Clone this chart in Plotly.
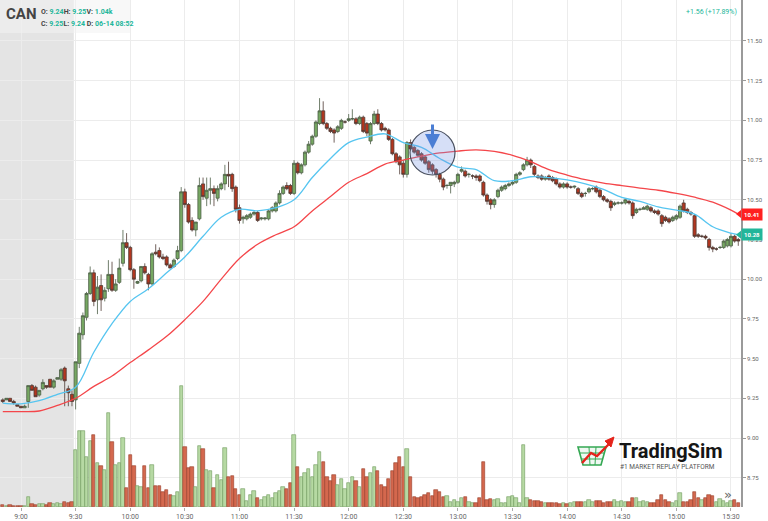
import plotly.graph_objects as go
import pandas as pd

SYMBOL = "CAN"
n_bars = 203
times = pd.date_range("2018-06-14 08:50", periods=n_bars, freq="2min")

open_ = [
    9.24, 9.24, 9.25, 9.23, 9.21, 9.20, 9.19, 9.23, 9.33, 9.32, 9.27, 9.31, 9.33, 9.37, 9.32, 9.37, 9.37, 9.44, 9.31, 9.275,
    9.24, 9.47, 9.65, 9.76, 9.91, 10.04, 9.87, 9.96, 9.88, 9.94, 10.03, 9.93, 9.98, 10.10, 10.23,
    10.20, 10.06, 9.975, 9.99, 10.08, 10.03, 9.97, 10.17, 10.18, 10.14, 10.14, 10.09, 10.08, 10.13, 10.18,
    10.55, 10.47, 10.37, 10.31, 10.38, 10.60, 10.51, 10.56, 10.57, 10.51, 10.57, 10.60, 10.66, 10.66, 10.58,
    10.45, 10.38, 10.38, 10.39, 10.41, 10.42, 10.38, 10.38, 10.38, 10.43, 10.43, 10.48, 10.54, 10.59, 10.59,
    10.54, 10.73, 10.67, 10.72, 10.80, 10.85, 10.90, 10.98, 11.06, 10.98, 10.95, 10.94, 10.93, 10.95, 10.99,
    11.00, 11.01, 11.01, 10.98, 11.02, 10.98, 10.87, 10.98, 11.04, 10.98, 10.95, 10.94, 10.88, 10.79, 10.77,
    10.73, 10.66, 10.86, 10.83, 10.81, 10.79, 10.77, 10.74, 10.72, 10.69, 10.66, 10.63, 10.59, 10.59, 10.60,
    10.61, 10.68, 10.68, 10.66, 10.65, 10.65, 10.65, 10.61, 10.53, 10.50, 10.47, 10.52, 10.56, 10.57, 10.59,
    10.60, 10.61, 10.66, 10.69, 10.72, 10.75, 10.71, 10.65, 10.65, 10.63, 10.65, 10.64, 10.63, 10.60, 10.58,
    10.60, 10.58, 10.58, 10.57, 10.54, 10.54, 10.55, 10.57, 10.58, 10.56, 10.52, 10.50, 10.49, 10.47, 10.48,
    10.48, 10.48, 10.49, 10.48, 10.42, 10.44, 10.44, 10.44, 10.45, 10.43, 10.43, 10.40, 10.39, 10.38, 10.37,
    10.38, 10.39, 10.48, 10.44, 10.42, 10.40, 10.28, 10.27, 10.27, 10.25, 10.20, 10.19, 10.20, 10.20, 10.21,
    10.21, 10.27, 10.25,
]
high = [
    9.25, 9.25, 9.25, 9.24, 9.21, 9.20, 9.21, 9.33, 9.34, 9.33, 9.30, 9.37, 9.33, 9.37, 9.37, 9.38, 9.44, 9.45, 9.33, 9.30,
    9.48, 9.70, 9.79, 9.92, 10.08, 10.06, 10.02, 10.03, 9.95, 10.12, 10.11, 10.00, 10.13, 10.31, 10.29,
    10.21, 10.07, 9.99, 10.08, 10.10, 10.04, 10.17, 10.22, 10.20, 10.16, 10.15, 10.10, 10.13, 10.21, 10.58,
    10.57, 10.48, 10.39, 10.36, 10.64, 10.64, 10.64, 10.64, 10.59, 10.59, 10.61, 10.72, 10.74, 10.67, 10.59,
    10.47, 10.40, 10.41, 10.42, 10.43, 10.43, 10.39, 10.39, 10.44, 10.46, 10.49, 10.56, 10.59, 10.61, 10.60,
    10.75, 10.74, 10.73, 10.81, 10.87, 10.91, 11.00, 11.14, 11.12, 10.99, 10.96, 10.95, 10.97, 11.01, 11.00,
    11.04, 11.07, 11.02, 11.03, 11.03, 10.99, 10.99, 11.06, 11.07, 10.99, 10.96, 10.95, 10.89, 10.80, 10.78,
    10.75, 10.87, 10.88, 10.84, 10.82, 10.80, 10.78, 10.75, 10.73, 10.70, 10.67, 10.64, 10.60, 10.61, 10.62,
    10.67, 10.71, 10.69, 10.67, 10.66, 10.66, 10.66, 10.62, 10.54, 10.51, 10.51, 10.57, 10.59, 10.60, 10.61,
    10.62, 10.67, 10.68, 10.73, 10.77, 10.76, 10.72, 10.66, 10.66, 10.65, 10.66, 10.65, 10.64, 10.61, 10.61,
    10.61, 10.59, 10.59, 10.58, 10.55, 10.55, 10.58, 10.58, 10.59, 10.57, 10.53, 10.51, 10.50, 10.49, 10.49,
    10.49, 10.51, 10.50, 10.49, 10.45, 10.45, 10.46, 10.47, 10.46, 10.44, 10.44, 10.41, 10.40, 10.39, 10.40,
    10.41, 10.47, 10.50, 10.45, 10.43, 10.41, 10.29, 10.28, 10.28, 10.26, 10.21, 10.20, 10.21, 10.25, 10.26,
    10.29, 10.28, 10.26,
]
low = [
    9.22, 9.24, 9.23, 9.21, 9.20, 9.19, 9.19, 9.19, 9.30, 9.26, 9.26, 9.30, 9.31, 9.32, 9.31, 9.37, 9.36, 9.20, 9.20, 9.20,
    9.18, 9.44, 9.62, 9.74, 9.90, 9.83, 9.78, 9.80, 9.86, 9.92, 9.92, 9.92, 9.97, 10.08, 10.19,
    10.05, 9.94, 9.97, 9.98, 10.03, 9.93, 9.96, 10.15, 10.13, 10.12, 10.08, 10.07, 10.07, 10.12, 10.17,
    10.45, 10.35, 10.30, 10.27, 10.37, 10.50, 10.46, 10.47, 10.46, 10.49, 10.56, 10.56, 10.58, 10.55, 10.42,
    10.35, 10.35, 10.37, 10.38, 10.40, 10.36, 10.37, 10.37, 10.37, 10.42, 10.42, 10.47, 10.53, 10.56, 10.53,
    10.53, 10.66, 10.66, 10.71, 10.79, 10.84, 10.89, 10.97, 10.97, 10.94, 10.92, 10.86, 10.92, 10.94, 10.98,
    10.99, 11.00, 10.97, 10.97, 10.92, 10.90, 10.85, 10.97, 10.97, 10.93, 10.93, 10.87, 10.78, 10.73, 10.66,
    10.64, 10.64, 10.81, 10.79, 10.77, 10.74, 10.72, 10.67, 10.66, 10.64, 10.61, 10.56, 10.57, 10.54, 10.58,
    10.60, 10.67, 10.64, 10.64, 10.63, 10.62, 10.61, 10.52, 10.47, 10.44, 10.45, 10.51, 10.55, 10.56, 10.58,
    10.59, 10.60, 10.65, 10.68, 10.71, 10.70, 10.65, 10.63, 10.62, 10.62, 10.62, 10.61, 10.59, 10.57, 10.57,
    10.57, 10.57, 10.57, 10.53, 10.51, 10.52, 10.54, 10.56, 10.54, 10.51, 10.49, 10.48, 10.43, 10.46, 10.47,
    10.47, 10.47, 10.47, 10.38, 10.41, 10.43, 10.44, 10.43, 10.42, 10.41, 10.40, 10.33, 10.36, 10.35, 10.36,
    10.37, 10.38, 10.42, 10.41, 10.40, 10.26, 10.26, 10.26, 10.25, 10.18, 10.17, 10.18, 10.19, 10.19, 10.20,
    10.20, 10.23, 10.21,
]
close = [
    9.23, 9.25, 9.23, 9.22, 9.20, 9.19, 9.20, 9.33, 9.30, 9.26, 9.30, 9.35, 9.32, 9.32, 9.36, 9.38, 9.43, 9.36, 9.285, 9.23,
    9.48, 9.66, 9.77, 9.91, 10.04, 9.86, 9.95, 9.87, 9.93, 10.03, 9.93, 9.97, 10.07, 10.23, 10.20,
    10.06, 10.00, 9.985, 10.08, 10.04, 9.97, 10.16, 10.16, 10.14, 10.13, 10.09, 10.07, 10.12, 10.18, 10.55,
    10.47, 10.36, 10.31, 10.36, 10.59, 10.52, 10.56, 10.57, 10.54, 10.57, 10.60, 10.66, 10.65, 10.57, 10.44,
    10.37, 10.39, 10.40, 10.41, 10.42, 10.37, 10.385, 10.385, 10.43, 10.45, 10.48, 10.54, 10.58, 10.57, 10.54,
    10.73, 10.67, 10.72, 10.80, 10.85, 10.90, 10.99, 11.06, 10.98, 10.95, 10.93, 10.92, 10.96, 11.00, 10.99,
    11.01, 11.01, 10.98, 11.02, 10.93, 10.92, 10.98, 11.04, 10.98, 10.94, 10.94, 10.88, 10.79, 10.74, 10.72,
    10.66, 10.86, 10.82, 10.80, 10.78, 10.75, 10.73, 10.69, 10.68, 10.66, 10.63, 10.58, 10.59, 10.61, 10.61,
    10.66, 10.69, 10.65, 10.66, 10.65, 10.64, 10.62, 10.53, 10.49, 10.47, 10.50, 10.56, 10.58, 10.59, 10.60,
    10.61, 10.66, 10.67, 10.72, 10.75, 10.72, 10.66, 10.64, 10.63, 10.64, 10.63, 10.62, 10.60, 10.58, 10.60,
    10.58, 10.58, 10.585, 10.54, 10.52, 10.54, 10.57, 10.57, 10.55, 10.52, 10.50, 10.49, 10.45, 10.48, 10.48,
    10.48, 10.50, 10.48, 10.40, 10.44, 10.44, 10.45, 10.46, 10.43, 10.42, 10.41, 10.35, 10.37, 10.36, 10.39,
    10.40, 10.46, 10.43, 10.42, 10.41, 10.27, 10.27, 10.27, 10.26, 10.20, 10.19, 10.19, 10.20, 10.24, 10.25,
    10.27, 10.24, 10.24,
]
# volume in hundreds of shares
volume = [
    2, 1.5, 2, 1.5, 1, 1, 1, 10, 3, 2, 3, 3, 2, 4, 3, 4, 3, 5, 4, 5,
    57, 76, 76, 50, 66, 72, 44, 41, 37, 94, 65, 42, 44, 69, 19,
    52, 41, 21, 20, 41, 19, 42, 21, 21, 15, 17, 12, 11, 15, 121,
    60, 39, 40, 20, 61, 58, 37, 36, 19, 32, 27, 59, 30, 31, 18,
    12, 18, 6, 12, 16, 9, 7, 10, 12, 9, 14, 16, 20, 18, 24,
    72, 40, 30, 34, 38, 30, 42, 55, 45, 30, 26, 32, 22, 28, 18,
    24, 30, 26, 20, 38, 30, 34, 40, 36, 22, 20, 28, 36, 44, 50,
    40, 58, 30, 10, 9, 10, 12, 14, 11, 17, 15, 10, 11, 5, 7,
    5, 9, 10, 5, 4, 4, 9, 45, 7, 8, 7, 8, 4, 4, 10,
    11, 9, 4, 62, 9, 7, 6, 6, 5, 4, 4, 4, 4, 3, 4,
    3, 4, 5, 5, 5, 5, 7, 5, 6, 6, 4, 5, 5, 7, 5,
    6, 5, 5, 9, 9, 5, 6, 5, 4, 4, 7, 12, 7, 5, 4,
    6, 14, 5, 5, 7, 15, 9, 7, 9, 12, 11, 5, 8, 6, 4,
    6, 7, 4,
]

line_times = [
    "08:50", "09:00", "09:10", "09:20", "09:30", "09:40", "09:50", "10:00", "10:10", "10:20", "10:30",
    "10:40", "10:50", "11:00", "11:10", "11:20", "11:30", "11:40", "11:50", "12:00", "12:10", "12:20",
    "12:30", "12:40", "12:50", "13:00", "13:10", "13:20", "13:30", "13:40", "13:50", "14:00", "14:10",
    "14:20", "14:30", "14:40", "14:50", "15:00", "15:10", "15:20", "15:30", "15:34",
]
ema_fast = [
    9.22, 9.215, 9.235, 9.275, 9.32, 9.54, 9.72, 9.86, 9.94, 10.04, 10.14,
    10.27, 10.39, 10.44, 10.43, 10.45, 10.50, 10.64, 10.76, 10.86, 10.895, 10.915,
    10.86, 10.83, 10.76, 10.705, 10.69, 10.62, 10.62, 10.645, 10.64, 10.625, 10.60,
    10.565, 10.515, 10.49, 10.455, 10.435, 10.41, 10.33, 10.29, 10.28,
]
ema_slow = [
    9.166, 9.166, 9.17, 9.205, 9.25, 9.325, 9.39, 9.475, 9.555, 9.64, 9.745,
    9.86, 10.00, 10.13, 10.22, 10.28, 10.33, 10.43, 10.52, 10.61, 10.665, 10.725,
    10.75, 10.775, 10.795, 10.807, 10.814, 10.805, 10.78, 10.74, 10.69, 10.656, 10.627,
    10.605, 10.589, 10.574, 10.56, 10.54, 10.516, 10.485, 10.435, 10.41,
]
price_ticks = [8.75, 9.00, 9.25, 9.50, 9.75, 10.00, 10.25, 10.50, 10.75, 11.00, 11.25, 11.50]
header_ohlc = {"O": "9.24", "H": "9.25", "V": "1.04k", "C": "9.25", "L": "9.24", "D": "06-14 08:52"}
change_text = "+1.56 (+17.89%)"
last_fast, last_slow = "10.28", "10.41"

assert len(open_) == len(high) == len(low) == len(close) == len(volume) == n_bars
assert len(line_times) == len(ema_fast) == len(ema_slow)

day = "2018-06-14 "
lt = [pd.Timestamp(day + t) for t in line_times]

TEAL = "#22b69a"
W, H = 741, 507


def px(x):
    return x / W


def py(y):
    return 1 - y / H


up_fill, up_line = "#b6d9a3", "#6f9b5d"
dn_fill, dn_line = "#d4684e", "#993c28"
vol_fill = [up_fill if c >= o else dn_fill for o, c in zip(open_, close)]
vol_line = [up_line if c >= o else dn_line for o, c in zip(open_, close)]

fig = go.Figure()
fig.add_trace(go.Bar(
    x=times, y=volume, yaxis="y2", width=2 * 60 * 1000 * 0.92,
    marker=dict(color=vol_fill, line=dict(color=vol_line, width=0.6)),
    hoverinfo="skip",
))
fig.add_trace(go.Candlestick(
    x=times, open=open_, high=high, low=low, close=close,
    increasing=dict(fillcolor="#76a862", line=dict(color="#4d5e46", width=0.8)),
    decreasing=dict(fillcolor="#b3361f", line=dict(color="#4e3a34", width=0.8)),
    whiskerwidth=0, hoverinfo="skip",
))
fig.add_trace(go.Scatter(x=lt, y=ema_slow, mode="lines", line=dict(color="#f4464a", width=1.3, shape="spline"), hoverinfo="skip"))
fig.add_trace(go.Scatter(x=lt, y=ema_fast, mode="lines", line=dict(color="#56c5f0", width=1.3, shape="spline"), hoverinfo="skip"))

shapes = [
    dict(type="rect", xref="x", yref="paper", x0=day + "08:40", x1=day + "09:29", y0=0, y1=1,
         fillcolor="#e4e4e4", line=dict(width=0), layer="below"),
    dict(type="rect", xref="paper", yref="paper", x0=0, x1=px(130), y0=py(33), y1=1,
         fillcolor="rgba(242,242,242,0.55)", line=dict(width=0), layer="above"),
    # highlight circle
    dict(type="circle", xref="paper", yref="paper", x0=px(410), x1=px(455), y0=py(175), y1=py(130),
         fillcolor="rgba(120,150,230,0.30)", line=dict(color="#4a5160", width=1.2)),
    # price tag pointers
    dict(type="path", xref="paper", yref="y", path=f"M {px(736)},10.41 L 1,10.435 L 1,10.385 Z",
         fillcolor="#ff2020", line=dict(width=0)),
    dict(type="path", xref="paper", yref="y", path=f"M {px(736)},10.28 L 1,10.305 L 1,10.255 Z",
         fillcolor=TEAL, line=dict(width=0)),
]


def ppath(pts, close_path=False):
    s = "M " + " L ".join(f"{px(a)},{py(b)}" for a, b in pts)
    return s + (" Z" if close_path else "")


# TradingSim logo icon
green = "#34a853"
shapes += [
    dict(type="path", xref="paper", yref="paper", path=ppath([(578, 447), (606, 447), (601, 465), (583, 465)], True),
         line=dict(color=green, width=1.6), fillcolor="rgba(52,168,83,0.08)"),
    dict(type="path", xref="paper", yref="paper", path=ppath([(580, 453), (604, 453)]), line=dict(color=green, width=1)),
    dict(type="path", xref="paper", yref="paper", path=ppath([(581, 459), (603, 459)]), line=dict(color=green, width=1)),
    dict(type="path", xref="paper", yref="paper", path=ppath([(589, 447), (590, 465)]), line=dict(color=green, width=1)),
    dict(type="path", xref="paper", yref="paper", path=ppath([(596, 447), (595, 465)]), line=dict(color=green, width=1)),
    dict(type="path", xref="paper", yref="paper", path=ppath([(582, 463), (591, 453), (597, 456), (609, 444)]),
         line=dict(color="#e5231b", width=2.4)),
    dict(type="path", xref="paper", yref="paper", path=ppath([(605, 441), (614, 437), (611, 447)], True),
         line=dict(color="#e5231b", width=1), fillcolor="#e5231b"),
]

ann = [
    dict(xref="paper", yref="paper", x=px(4), y=py(14), xanchor="left", yanchor="middle", showarrow=False,
         text="<b>" + SYMBOL + "</b>", font=dict(family="Roboto", size=15, color="#444")),
    dict(xref="paper", yref="paper", x=px(39), y=py(12), xanchor="left", yanchor="middle", showarrow=False,
         text=(f"<b>O: <span style='color:{TEAL}'>{header_ohlc['O']}</span>H: <span style='color:{TEAL}'>{header_ohlc['H']}</span>"
               f"V: <span style='color:{TEAL}'>{header_ohlc['V']}</span></b>"),
         font=dict(family="Roboto", size=7, color="#444")),
    dict(xref="paper", yref="paper", x=px(39), y=py(24), xanchor="left", yanchor="middle", showarrow=False,
         text=(f"<b>C: <span style='color:{TEAL}'>{header_ohlc['C']}</span>L: <span style='color:{TEAL}'>{header_ohlc['L']}</span> "
               f"D: <span style='color:{TEAL}'>{header_ohlc['D']}</span></b>"),
         font=dict(family="Roboto", size=7, color="#444")),
    dict(xref="paper", yref="paper", x=px(739), y=py(12), xanchor="right", yanchor="middle", showarrow=False,
         text=change_text, font=dict(family="Roboto", size=7, color=TEAL)),
    dict(xref="paper", yref="y", x=1, y=10.41, xanchor="left", yanchor="middle", showarrow=False,
         text="<b>" + last_slow + "</b>", bgcolor="#ff2020", borderpad=2, font=dict(family="Roboto", size=6, color="white")),
    dict(xref="paper", yref="y", x=1, y=10.28, xanchor="left", yanchor="middle", showarrow=False,
         text="<b>" + last_fast + "</b>", bgcolor=TEAL, borderpad=2, font=dict(family="Roboto", size=6, color="white")),
    dict(xref="paper", yref="paper", x=px(432.5), y=py(149), ax=0, ay=-26, showarrow=True, text="",
         arrowhead=2, arrowsize=1, arrowwidth=3, arrowcolor="#4b7ed4"),
    dict(xref="paper", yref="paper", x=px(617), y=py(451), xanchor="left", yanchor="middle", showarrow=False,
         text="<b>TradingSim</b>", font=dict(family="Roboto", size=20, color="#151515")),
    dict(xref="paper", yref="paper", x=px(618), y=py(467), xanchor="left", yanchor="middle", showarrow=False,
         text="#1 MARKET REPLAY PLATFORM", font=dict(family="Roboto", size=6.5, color="#555")),
    dict(xref="paper", yref="paper", x=px(728), y=py(494), xanchor="center", yanchor="middle", showarrow=False,
         text="»", font=dict(family="DejaVu Sans", size=13, color="#666")),
]

fig.update_layout(
    width=768, height=521,
    margin=dict(l=0, r=27, t=0, b=14),
    paper_bgcolor="white", plot_bgcolor="white",
    showlegend=False, boxgap=0.15, boxgroupgap=0, bargap=0,
    shapes=shapes, annotations=ann,
    xaxis=dict(
        type="date", range=[day + "08:48:28", day + "15:35:30"],
        rangeslider=dict(visible=False),
        tick0=day + "09:00", dtick=30 * 60 * 1000, tickformat="%-H:%M",
        showgrid=True, gridcolor="#ececec", gridwidth=1,
        ticks="outside", ticklen=3, tickcolor="#aaa",
        tickfont=dict(family="Roboto", size=7, color="#666"),
        showline=False, zeroline=False, fixedrange=True,
    ),
    yaxis=dict(
        side="right", range=[8.5655, 11.758],
        tickvals=price_ticks, tickformat=".2f",
        showgrid=True, gridcolor="#ececec", gridwidth=1,
        ticks="outside", ticklen=3, tickcolor="#999",
        tickfont=dict(family="Roboto", size=6, color="#666"),
        showline=True, linecolor="#9a9a9a", linewidth=1.5, zeroline=False,
    ),
    yaxis2=dict(overlaying="y", range=[0, 507], visible=False, fixedrange=True),
)

fig.write_html(
    "out.html",
    config={"displayModeBar": False},
    post_script="document.body.style.margin='0';document.body.style.overflow='hidden';",
)
